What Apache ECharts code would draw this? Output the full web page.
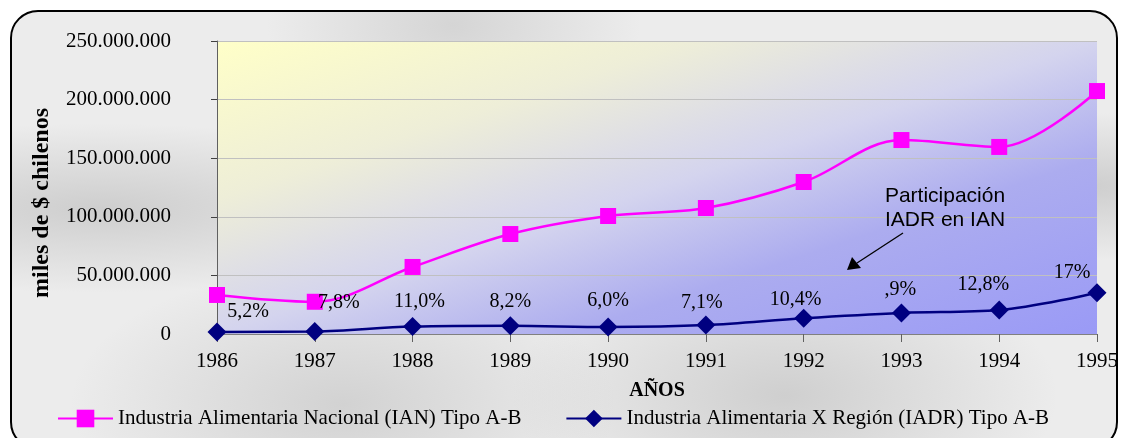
<!DOCTYPE html>
<html>
<head>
<meta charset="utf-8">
<script src="https://cdn.jsdelivr.net/npm/echarts@6/dist/echarts.min.js"></script>
<style>
  html, body { margin: 0; padding: 0; background: #fff; }
  #frame {
    position: absolute; left: 10px; top: 10px; width: 1108px; height: 440px;
    border: 2px solid #000; border-radius: 28px; box-sizing: border-box;
    background:
      radial-gradient(ellipse at 8% 45%, rgba(150,150,150,0.35), rgba(255,255,255,0) 25%),
      radial-gradient(ellipse at 30% 90%, rgba(150,150,150,0.3), rgba(255,255,255,0) 25%),
      radial-gradient(ellipse at 70% 88%, rgba(140,140,140,0.3), rgba(255,255,255,0) 25%),
      radial-gradient(ellipse at 97% 40%, rgba(150,150,150,0.35), rgba(255,255,255,0) 20%),
      radial-gradient(ellipse at 40% 3%, rgba(160,160,160,0.3), rgba(255,255,255,0) 20%),
      #ececec;
  }
  #chart { position: absolute; left: 0; top: 0; width: 1121px; height: 438px; }
</style>
</head>
<body>
<div id="frame"></div>
<div id="chart"></div>
<script>
// años
const years = ['1986', '1987', '1988', '1989', '1990', '1991', '1992', '1993', '1994', '1995'];
// Industria Alimentaria Nacional (IAN), miles de $
const ian = [33300000, 27500000, 57200000, 85300000, 100700000, 107500000, 129700000, 165500000, 159600000, 207300000];
// Industria Alimentaria X Región (IADR), miles de $
const iadr = [1700000, 2100000, 6300000, 7000000, 6000000, 7600000, 13500000, 18000000, 20400000, 35200000];
// participación IADR en IAN (texto tal como aparece)
const shares = ['5,2%', '7,8%', '11,0%', '8,2%', '6,0%', '7,1%', '10,4%', ',9%', '12,8%', '17%'];

const serif = '"Liberation Serif", "Times New Roman", serif';
// desplazamiento de cada etiqueta respecto a su punto
const labelOffsets = [[31, -20], [24, -29], [7, -25], [0, -24], [0, -26], [-4, -22], [-8, -18], [-1, -23], [-16, -25], [-25, -20]];

const chart = echarts.init(document.getElementById('chart'));

const option = {
  animation: false,
  backgroundColor: 'transparent',
  grid: {
    left: 217, right: 21, top: 41, bottom: 104,
    show: true, borderWidth: 0,
    backgroundColor: {
      type: 'linear', x: 217, y: 41, x2: 393, y2: 569, global: true,
      colorStops: [
        { offset: 0, color: '#ffffc8' },
        { offset: 0.27, color: '#eeeed8' },
        { offset: 0.5, color: '#d4d4ee' },
        { offset: 0.7, color: '#acacef' },
        { offset: 1, color: '#9a9af6' }
      ]
    }
  },
  legend: {
    top: 408, left: 57, padding: 0, itemGap: 44, itemWidth: 55, itemHeight: 22,
    textStyle: { fontFamily: serif, fontSize: 21, color: '#000' },
    data: [
      'Industria Alimentaria Nacional (IAN) Tipo A-B',
      'Industria Alimentaria X Región (IADR) Tipo A-B'
    ]
  },
  xAxis: {
    type: 'category', data: years, boundaryGap: false,
    name: 'AÑOS', nameLocation: 'middle', nameGap: 47,
    nameTextStyle: { fontFamily: serif, fontSize: 20, fontWeight: 'bold', color: '#000' },
    axisLine: { lineStyle: { color: '#808080', width: 1 } },
    axisTick: { show: true, alignWithLabel: true, length: 8, lineStyle: { color: '#606060' } },
    axisLabel: { fontFamily: serif, fontSize: 21, color: '#000', margin: 17 }
  },
  yAxis: {
    type: 'value', min: 0, max: 250000000, interval: 50000000,
    axisLine: { show: true, lineStyle: { color: '#606060', width: 1 } },
    axisTick: { show: true, length: 6, lineStyle: { color: '#404040' } },
    axisLabel: {
      fontFamily: serif, fontSize: 21, color: '#000', margin: 46,
      formatter: v => v === 0 ? '0' : v.toLocaleString('de-DE')
    },
    splitLine: { lineStyle: { color: '#c0c0c0', width: 1 } }
  },
  series: [
    {
      name: 'Industria Alimentaria Nacional (IAN) Tipo A-B',
      type: 'line', smooth: 0.35, data: ian,
      symbol: 'rect', symbolSize: 16,
      lineStyle: { color: '#ff00ff', width: 2.5 },
      itemStyle: { color: '#ff00ff' },
      z: 3
    },
    {
      name: 'Industria Alimentaria X Región (IADR) Tipo A-B',
      type: 'line', smooth: 0.35,
      data: iadr.map((v, i) => ({
        value: v,
        label: { offset: labelOffsets[i] }
      })),
      symbol: 'diamond', symbolSize: 19,
      lineStyle: { color: '#000080', width: 2.5 },
      itemStyle: { color: '#000080' },
      label: {
        show: true, position: 'inside',
        fontFamily: serif, fontSize: 20, color: '#000',
        formatter: p => shares[p.dataIndex]
      },
      z: 4
    }
  ],
  graphic: [
    {
      type: 'text', x: 42, y: 203, rotation: Math.PI / 2, z: 10,
      style: {
        text: 'miles de $ chilenos', align: 'center', verticalAlign: 'middle',
        font: 'bold 24px "Liberation Serif", "Times New Roman", serif', fill: '#000'
      }
    },
    {
      type: 'text', x: 945, y: 184, z: 10,
      style: {
        text: 'Participación\nIADR en IAN', align: 'center',
        font: '21px "Liberation Sans", Arial, sans-serif', fill: '#000', lineHeight: 24
      }
    },
    {
      type: 'line', z: 10,
      shape: { x1: 903, y1: 233, x2: 857, y2: 263 },
      style: { stroke: '#000', lineWidth: 1.3 }
    },
    {
      type: 'polygon', z: 10,
      shape: { points: [[847, 270], [852, 257], [861, 268]] },
      style: { fill: '#000' }
    }
  ]
};

chart.setOption(option);
</script>
</body>
</html>
